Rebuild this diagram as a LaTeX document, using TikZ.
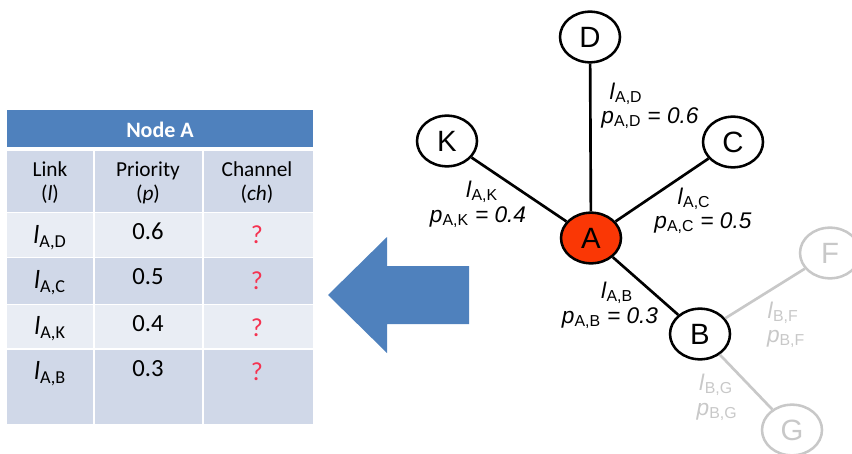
\documentclass[tikz,border=0pt]{standalone}
\usepackage{fontspec}
\setmainfont{Carlito}
\newfontfamily\graphfont{Liberation Sans}
\usepackage{xcolor}
\usetikzlibrary{shapes.geometric}
\definecolor{headblue}{RGB}{79,129,189}
\definecolor{rowdark}{RGB}{208,216,232}
\definecolor{rowlight}{RGB}{233,237,244}
\definecolor{nodered}{RGB}{250,55,5}
\definecolor{fadegray}{RGB}{200,200,200}
\definecolor{askred}{RGB}{245,50,80}
\newcommand{\linkvar}[2]{\textit{#1}\textsubscript{#2}}

\begin{document}
\begin{tikzpicture}[x=0.75pt, y=-0.75pt,
    cell/.style={anchor=base, font=\fontsize{16}{18}\selectfont},
    entry/.style={anchor=base, font=\fontsize{19.5}{22}\selectfont},
    gnode/.style={ellipse, draw, line width=1.9pt, minimum width=45pt, minimum height=38pt, inner sep=0pt, font=\graphfont\fontsize{22}{24}\selectfont},
    edge/.style={line width=2pt},
    lab/.style={anchor=base, font=\graphfont\fontsize{17}{19}\selectfont}
]
    \useasboundingbox (0,0) rectangle (852,453);

    % Table of node A
    \fill[headblue] (7,110) rectangle (313,147);
    \fill[rowdark] (7,151) rectangle (313,212);
    \fill[rowlight] (7,213) rectangle (313,257);
    \fill[rowdark] (7,258) rectangle (313,304);
    \fill[rowlight] (7,305) rectangle (313,348);
    \fill[rowdark] (7,350) rectangle (313,424);
    \draw[white, line width=1.5pt] (94,151) -- (94,424);
    \draw[white, line width=1.5pt] (203,151) -- (203,424);

    \node[cell, text=white, font=\fontsize{16.5}{18}\selectfont\bfseries] (title) at (160,137) {Node A};
    \node[cell] (hlink) at (50,176) {Link};
    \node[cell] (hlinkvar) at (50,200) {(\textit{l})};
    \node[cell] (hprio) at (148,176) {Priority};
    \node[cell] (hpriovar) at (148,200) {(\textit{p})};
    \node[cell] (hchan) at (257,176) {Channel};
    \node[cell] (hchanvar) at (257,200) {(\textit{ch})};

    \node[entry] (l1) at (50,243) {\linkvar{l}{A,D}};
    \node[entry, font=\fontsize{18.5}{22}\selectfont] (p1) at (148,239) {0.6};
    \node[entry, text=askred] (q1) at (257,243) {?};
    \node[entry] (l2) at (50,288) {\linkvar{l}{A,C}};
    \node[entry, font=\fontsize{18.5}{22}\selectfont] (p2) at (148,284) {0.5};
    \node[entry, text=askred] (q2) at (257,289) {?};
    \node[entry] (l3) at (50,334) {\linkvar{l}{A,K}};
    \node[entry, font=\fontsize{18.5}{22}\selectfont] (p3) at (148,331) {0.4};
    \node[entry, text=askred] (q3) at (257,336) {?};
    \node[entry] (l4) at (50,379) {\linkvar{l}{A,B}};
    \node[entry, font=\fontsize{18.5}{22}\selectfont] (p4) at (148,376) {0.3};
    \node[entry, text=askred] (q4) at (257,380) {?};

    % Arrow
    \fill[headblue] (328,295) -- (387,237) -- (387,266) -- (469,266) -- (469,324) -- (387,324) -- (387,353) -- cycle;

    % Graph
    \node[gnode, fill=nodered] (A) at (591,238) {A};
    \node[gnode] (D) at (590,37) {D};
    \node[gnode] (K) at (447,141) {K};
    \node[gnode] (C) at (733,142) {C};
    \node[gnode] (B) at (700,334) {B};
    \node[gnode, draw=fadegray, text=fadegray] (F) at (830,253) {F};
    \node[gnode, draw=fadegray, text=fadegray] (G) at (792,430) {G};

    \draw[edge] (A) -- (D);
    \draw[edge] (A) -- (K);
    \draw[edge] (A) -- (C);
    \draw[edge] (A) -- (B);
    \draw[edge, fadegray] (B) -- (F);
    \draw[edge, fadegray] (B) -- (G);

    \node[lab] (lAD) at (626,99) {\linkvar{l}{A,D}};
    \node[lab] (pAD) at (650,123) {\linkvar{p}{A,D}\textit{ = 0.6}};
    \node[lab] (lAK) at (482,197) {\linkvar{l}{A,K}};
    \node[lab] (pAK) at (478,222) {\linkvar{p}{A,K}\textit{ = 0.4}};
    \node[lab] (lAC) at (694,204) {\linkvar{l}{A,C}};
    \node[lab] (pAC) at (703,228) {\linkvar{p}{A,C}\textit{ = 0.5}};
    \node[lab] (lAB) at (617,298) {\linkvar{l}{A,B}};
    \node[lab] (pAB) at (610,323) {\linkvar{p}{A,B}\textit{ = 0.3}};
    \node[lab, text=fadegray] (lBF) at (783,318) {\linkvar{l}{B,F}};
    \node[lab, text=fadegray] (pBF) at (786,342) {\linkvar{p}{B,F}};
    \node[lab, text=fadegray] (lBG) at (716,390) {\linkvar{l}{B,G}};
    \node[lab, text=fadegray] (pBG) at (717,415) {\linkvar{p}{B,G}};
\end{tikzpicture}
\end{document}
